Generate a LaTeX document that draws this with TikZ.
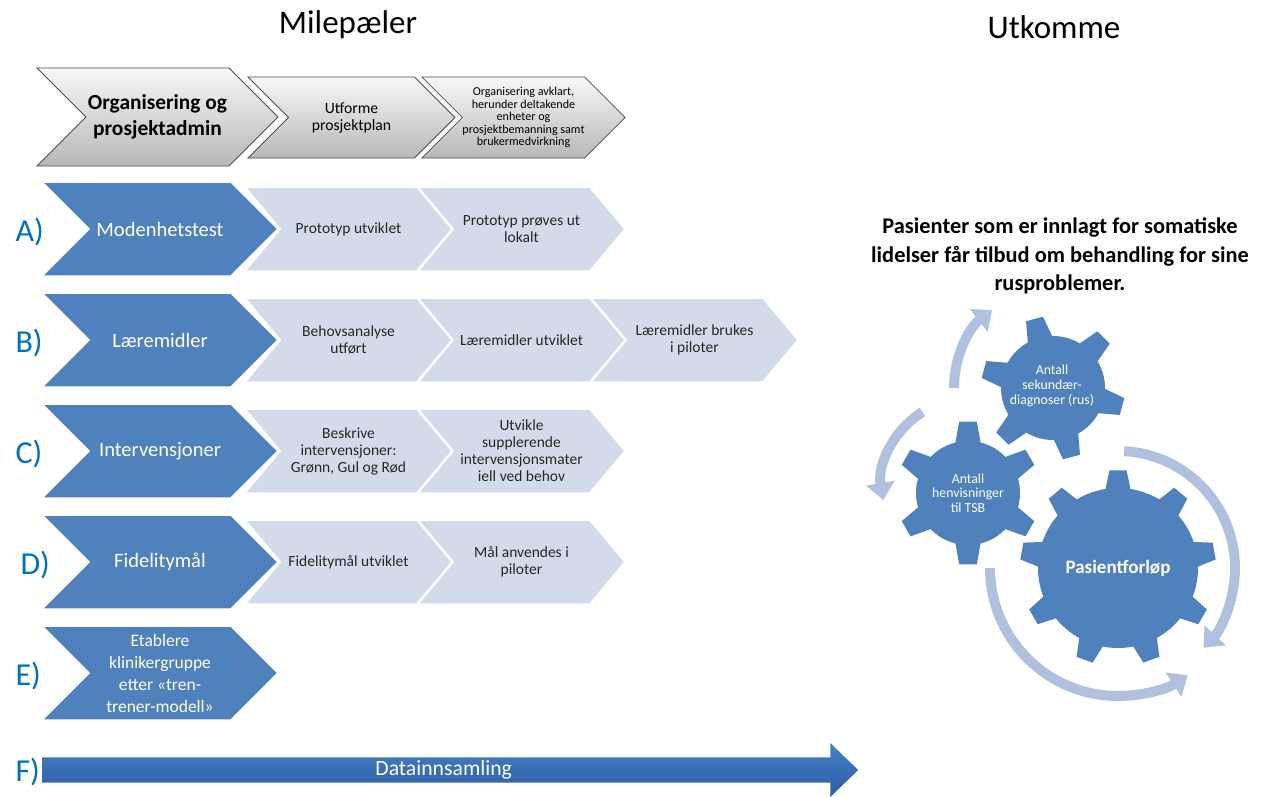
\documentclass[tikz,border=0pt]{standalone}
\usepackage{fontspec}
\setmainfont{Carlito}
\usepackage{tikz}
\usetikzlibrary{shapes.symbols,shapes.arrows,arrows.meta}

\definecolor{chevblue}{RGB}{79,129,189}
\definecolor{chevlight}{RGB}{211,219,234}
\definecolor{ringblue}{RGB}{175,193,222}
\definecolor{letterblue}{RGB}{0,112,192}
\definecolor{datatop}{RGB}{72,128,200}
\definecolor{databot}{RGB}{44,92,160}

\begin{document}
\begin{tikzpicture}[x=1pt, y=-1pt,
	chev/.style={shape=signal, signal from=west, signal to=east, inner sep=0pt, align=center},
	grey/.style={chev, signal pointer angle=90, draw=black!70, line width=0.8pt, top color=black!3, bottom color=black!28},
	dark/.style={chev, signal pointer angle=90, minimum width=236pt, minimum height=94pt, fill=chevblue, draw=white, line width=1.5pt, text=white, font=\fontsize{20.5}{25}\selectfont},
	light/.style={chev, signal pointer angle=100, minimum width=207pt, minimum height=84pt, fill=chevlight, draw=white, line width=1.5pt, text=black!85, font=\fontsize{15.5}{17}\selectfont},
	letter/.style={anchor=base west, text=letterblue, font=\fontsize{32}{36}\selectfont},
	title/.style={anchor=base, font=\fontsize{33}{40}\selectfont},
	gear/.style={fill=chevblue},
	gtext/.style={text=white, align=center, font=\fontsize{13.8}{14.7}\selectfont},
	ring/.style={draw=ringblue, line width=10pt, -{Triangle[width=28pt, length=17pt]}}]
	\useasboundingbox (0, 0) rectangle (1263, 796);

	\node [title] (mil) at (348, 33) {Milepæler};
	\node [title] (utk) at (1054, 38) {Utkomme};

	\node [grey, minimum width=241pt, minimum height=98pt, font=\bfseries\fontsize{21.4}{26}\selectfont] (g1) at (157.5, 117) {Organisering og\\prosjektadmin};
	\node [grey, minimum width=207pt, minimum height=81pt, font=\fontsize{15.7}{17}\selectfont] (g2) at (351.5, 117.5) {Utforme\\prosjektplan};
	\node [grey, minimum width=203pt, minimum height=81pt, font=\fontsize{12.1}{12.5}\selectfont] (g3) at (523.5, 117.5) {Organisering avklart,\\herunder deltakende\\enheter og\\prosjektbemanning samt\\brukermedvirkning};

	\node [light] (a1) at (348.5, 229) {Prototyp utviklet};
	\node [light] (a2) at (521.5, 229) {Prototyp prøves ut\\lokalt};
	\node [light] (b1) at (348.5, 340) {Behovsanalyse\\utført};
	\node [light] (b2) at (521.5, 340) {Læremidler utviklet};
	\node [light] (b3) at (694.5, 340) {Læremidler brukes\\i piloter};
	\node [light] (c1) at (348.5, 451) {Beskrive\\intervensjoner:\\Grønn, Gul og Rød};
	\node [light] (c2) at (521.5, 451) {Utvikle\\supplerende\\intervensjonsmater\\iell ved behov};
	\node [light] (d1) at (348.5, 562) {Fidelitymål utviklet};
	\node [light] (d2) at (521.5, 562) {Mål anvendes i\\piloter};

	\node [dark] (a0) at (160, 229) {Modenhetstest};
	\node [dark] (b0) at (160, 340) {Læremidler};
	\node [dark] (c0) at (160, 451) {Intervensjoner};
	\node [dark] (d0) at (160, 562) {Fidelitymål};
	\node [dark, font=\fontsize{17.5}{22}\selectfont] (e0) at (160, 673) {Etablere\\klinikergruppe\\etter «tren-\\trener-modell»};

	\node [letter] (la) at (12, 241) {A)};
	\node [letter] (lb) at (12, 352) {B)};
	\node [letter] (lc) at (12, 463) {C)};
	\node [letter] (ld) at (17, 574) {D)};
	\node [letter] (le) at (12, 685) {E)};
	\node [letter] (lf) at (12, 781) {F)};

	\node [single arrow, single arrow head extend=11pt, single arrow tip angle=88, minimum height=816pt, minimum width=54pt, inner sep=0pt, top color=datatop, bottom color=databot, text=white, font=\fontsize{21.7}{24}\selectfont, anchor=tail] (f0) at (42, 770) {Datainnsamling};

	\node [align=center, font=\bfseries\fontsize{22.4}{28.5}\selectfont] (goal) at (1060, 256) {Pasienter som er innlagt for somatiske\\lidelser får tilbud om behandling for sine\\rusproblemer.};

	\begin{scope}[shift={(1118, 568)}, yscale=-1]
		\draw [ring] (87:117) arc [start angle=87, end angle=-43, radius=117];
		\draw [ring] (180:128) arc [start angle=180, end angle=303, radius=128];
		\fill [gear] (59:80) \foreach \a in {90,130,...,410} {arc [start angle=\a-31, end angle=\a-9, radius=80] -- (\a-5:98) -- (\a+5:98) -- (\a+9:80)} -- cycle;
		\node [gtext, font=\bfseries\fontsize{19}{22}\selectfont] (pf) at (0, 0) {Pasientforløp};
	\end{scope}

	\begin{scope}[shift={(968, 493)}, yscale=-1]
		\draw [ring, shift={(0, 8)}] (122:86) arc [start angle=122, end angle=190, radius=86];
		\fill [gear] (44:52) \foreach \a in {90,150,...,390} {arc [start angle=\a-46, end angle=\a-14, radius=52] -- (\a-7:72) -- (\a+7:72) -- (\a+14:52)} -- cycle;
		\node [gtext] (hv) at (0, 0) {Antall\\henvisninger\\til TSB};
	\end{scope}

	\begin{scope}[shift={(1053, 388)}, yscale=-1]
		\draw [ring] (180:99) arc [start angle=180, end angle=128, radius=99];
		\fill [gear] (59:52) \foreach \a in {105,165,...,405} {arc [start angle=\a-46, end angle=\a-14, radius=52] -- (\a-7:72) -- (\a+7:72) -- (\a+14:52)} -- cycle;
		\node [gtext] (sd) at (-1, 2) {Antall\\sekundær-\\diagnoser (rus)};
	\end{scope}
\end{tikzpicture}
\end{document}
